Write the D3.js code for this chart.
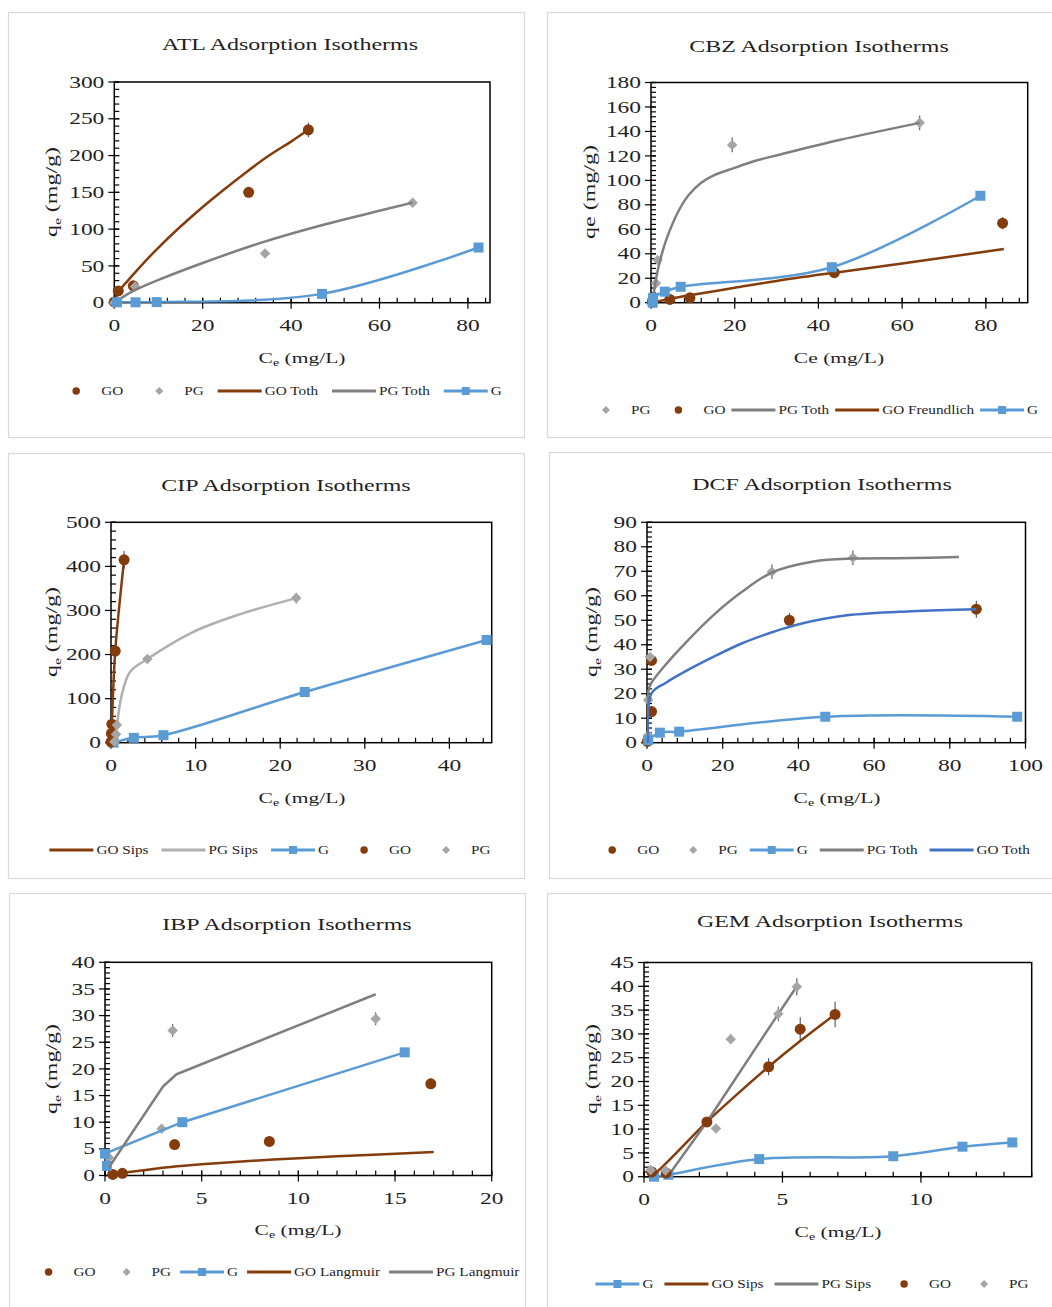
<!DOCTYPE html>
<html><head><meta charset="utf-8">
<script src="https://cdn.jsdelivr.net/npm/d3@7"></script>
<style>body{margin:0;background:#fff}svg{display:block}</style>
</head><body>
<script>
// ---------------- DATA ----------------
// ATL
const atlGO_x=[0,0.9,4.3,30.4,43.9], atlGO_y=[1,16,23,150,235], atlGO_err=[0,0,0,0,10];
const atlPG_x=[0,4.7,34.1,67.5], atlPG_y=[0,22,67,136], atlPG_err=[0,0,0,3];
const atlGOToth_x=[0,1,3.5,10,20,30,35,40,43.9], atlGOToth_y=[0,15,33,75,130,178,200,219,235];
const atlPGToth_x=[0,2,5,10,20,34,48,60,67.5], atlPGToth_y=[0,8,18,31,54,83,107,125,136];
const atlG_x=[0.6,4.8,9.6,47,82.4], atlG_y=[0.5,0.5,0.8,12,75];
// CBZ
const cbzPG_x=[0.3,1.2,1.6,19.4,64.2], cbzPG_y=[3,16,35,129,147], cbzPG_err=[0,0,0,6,6];
const cbzGO_x=[0.3,4.5,9.3,43.8,84], cbzGO_y=[0.5,2.7,4,24.5,65], cbzGO_err=[0,0,0,0,5];
const cbzPGToth_x=[0.3,1,1.7,3.7,6.9,9,12,15,19.8,25,30.7,45,64.2], cbzPGToth_y=[0,15,28,52,77,88,98,104,110,116,121,133,147];
const cbzGOFr_x=[0,5,10,20,30,43.8,60,84.3], cbzGOFr_y=[0,3.5,6.5,12.2,17.8,24.5,32,43.9];
const cbzG_x=[0.4,0.5,3.3,7.1,43.2,78.7], cbzG_y=[0,4,9,13,29,87.4];
// CIP
const cipGOSips_x=[0,0.05,0.1,0.5,1.55], cipGOSips_y=[0,21,42,208,415];
const cipPGSips_x=[0.4,0.7,1.27,2.26,4.3,9.8,15,21.9], cipPGSips_y=[0,40,108,161,190,252,290,328];
const cipG_x=[0.3,2.7,6.2,22.9,44.4], cipG_y=[0,11,17,115,233];
const cipGO_x=[0,0.05,0.1,0.5,1.55], cipGO_y=[2,21,42,208,415], cipGO_err=[0,0,0,0,20];
const cipPG_x=[0.4,0.6,0.7,4.3,21.9], cipPG_y=[2,19,40,190,328], cipPG_err=[0,0,0,5,12];
// DCF
const dcfGO_x=[0.1,1.2,1.2,37.6,87], dcfGO_y=[0.5,12.7,33.6,50,54.5], dcfGO_err=[0,0,0,3,3.5];
const dcfPG_x=[0.3,0.3,0.8,33,54.4], dcfPG_y=[3,17.4,35,69.8,75.5], dcfPG_err=[0,0,0,3,3];
const dcfG_x=[0.3,3.4,8.5,47.1,97.8], dcfG_y=[1,4.1,4.5,10.6,10.6];
const dcfPGToth_x=[0,0.5,1.2,5,10,17.5,25,33,44,54.4,70,82.4], dcfPGToth_y=[0,22,24.5,32,40.5,52,61.5,69.5,74,75.2,75.4,75.8];
const dcfGOToth_x=[0.3,1.2,5,10,17.5,25,33.4,39.6,52.8,70,87], dcfGOToth_y=[0,20.2,24.5,29,35,40.5,45.3,48.2,52,53.7,54.5];
// IBP
const ibpGO_x=[0.4,0.9,3.6,8.5,16.85], ibpGO_y=[0.2,0.4,5.8,6.4,17.2], ibpGO_err=[0,0,0,0,1];
const ibpPG_x=[0.2,2.93,3.5,14], ibpPG_y=[3.4,8.75,27.2,29.4], ibpPG_err=[0,0,1.2,1.2];
const ibpG_x=[0.1,0,4,15.5], ibpG_y=[1.8,4.1,10,23.1];
const ibpGOLang_x=[0.3,1,2,3.4,5,8.7,12,17], ibpGOLang_y=[0,0.5,1,1.6,2.1,3,3.6,4.4];
const ibpPGLang_x=[0.2,3,3.7,14], ibpPGLang_y=[1.5,16.7,19,34];
// GEM
const gemG_x=[0.36,0.88,4.16,9,11.5,13.3], gemG_y=[0,0.4,3.7,4.3,6.3,7.2];
const gemGOSips_x=[0.3,1,2.27,3.4,4.5,5.64,6.9], gemGOSips_y=[0,4,11.5,17.5,23.1,28.5,34.1];
const gemPGSips_x=[0.85,2.27,4.85,5.52], gemPGSips_y=[0,11.5,34.2,40];
const gemGO_x=[0.28,0.8,2.27,4.5,5.64,6.9], gemGO_y=[1,0.8,11.5,23.1,31,34.1], gemGO_err=[0,0,0,1.8,2.5,2.7];
const gemPG_x=[0.24,0.77,2.6,3.13,4.85,5.52], gemPG_y=[1.4,1.3,10.1,28.9,34.2,39.9], gemPG_err=[0,0,0,1,1.5,1.8];

// titles / labels
const panelTitles=["ATL Adsorption Isotherms","CBZ Adsorption Isotherms","CIP Adsorption Isotherms","DCF Adsorption Isotherms","IBP Adsorption Isotherms","GEM Adsorption Isotherms"];

// ---------------- STYLE ----------------
const BROWN="#843C0C", PGM="#A5A5A5", PGL="#7F7F7F", BLUE="#5B9BD5", DBLUE="#4472C4", LGRAY="#AFAFAF";
const FONT="'Liberation Serif','Times New Roman',serif";
const TXT="#1f1f1f";

const svg=d3.select("body").append("svg").attr("width",1052).attr("height",1307);

function zip(xs,ys,es){return xs.map((x,i)=>({x,y:ys[i],e:es?es[i]:0}));}

function stext(g,x,y,parts,size,sx,anchor,rot){
  const t=g.append("text")
    .attr("transform",`translate(${x},${y})${rot?" rotate(-90)":""} scale(${sx},1)`)
    .attr("font-family",FONT).attr("font-size",size).attr("fill",TXT)
    .attr("text-anchor",anchor||"middle");
  if(typeof parts==="string"){t.text(parts);return t;}
  parts.forEach(p=>{
    const ts=t.append("tspan").text(p.t);
    if(p.sub) ts.attr("font-size",size*0.65).attr("dy",size*0.22);
    else if(p.after) ts.attr("dy",-size*0.22);
  });
  return t;
}

function marker(g,type,x,y,s,color){
  if(type==="circle") g.append("circle").attr("cx",x).attr("cy",y).attr("r",s/2).attr("fill",color);
  else if(type==="square") g.append("rect").attr("x",x-s/2).attr("y",y-s/2).attr("width",s).attr("height",s).attr("fill",color);
  else if(type==="diamond") g.append("path").attr("d",`M${x},${y-s/2}L${x+s/2},${y}L${x},${y+s/2}L${x-s/2},${y}Z`).attr("fill",color);
}

const layouts=[
 {l:114.3,r:490,t:82,b:302.7,xd:[0,85],yd:[0,300],xM:20,xm:4,yM:50,ym:10,title:[290,50],xt:[302,363],yt:[57,192],leg:[278,391],lgap:14,xsub:true},
 {l:651,r:1027.7,t:82.5,b:302.7,xd:[0,90],yd:[0,180],xM:20,xm:4,yM:20,ym:4,title:[819,52],xt:[839,363],yt:[595,192],leg:[811,410],lgap:6,xsub:false},
 {l:111,r:491.7,t:522.3,b:742.7,xd:[0,45],yd:[0,500],xM:10,xm:2,yM:100,ym:20,title:[286,491],xt:[302,803],yt:[57,632],leg:[270,850],lgap:13,xsub:true},
 {l:647,r:1025.5,t:522.3,b:742.7,xd:[0,100],yd:[0,90],xM:20,xm:4,yM:10,ym:2,title:[822,490],xt:[837,803],yt:[597,632],leg:[810,850],lgap:12,xsub:true},
 {l:105,r:491.7,t:962.3,b:1175.5,xd:[0,20],yd:[0,40],xM:5,xm:1,yM:5,ym:1,title:[287,930],xt:[298,1235],yt:[57,1069],leg:[273,1272],lgap:9,xsub:true},
 {l:644,r:1031.7,t:962.5,b:1176.7,xd:[0,14],yd:[0,45],xM:5,xm:1,yM:5,ym:1,title:[830,927],xt:[838,1237],yt:[597,1069],leg:[812,1284],lgap:11,xsub:true}
];
const frames=[[8,12,516,425],[547,12,520,425],[8,453,516,425],[549,452,520,426],[9,893,516,430],[547,893,520,430]];

const panels=[
 {series:[
  {name:"GO",kind:"pts",m:"circle",c:BROWN,d:zip(atlGO_x,atlGO_y,atlGO_err)},
  {name:"PG",kind:"pts",m:"diamond",c:PGM,d:zip(atlPG_x,atlPG_y,atlPG_err)},
  {name:"GO Toth",kind:"line",c:BROWN,smooth:true,d:zip(atlGOToth_x,atlGOToth_y)},
  {name:"PG Toth",kind:"line",c:PGL,smooth:true,d:zip(atlPGToth_x,atlPGToth_y)},
  {name:"G",kind:"lp",m:"square",c:BLUE,smooth:true,d:zip(atlG_x,atlG_y)}]},
 {series:[
  {name:"PG",kind:"pts",m:"diamond",c:PGM,d:zip(cbzPG_x,cbzPG_y,cbzPG_err)},
  {name:"GO",kind:"pts",m:"circle",c:BROWN,d:zip(cbzGO_x,cbzGO_y,cbzGO_err)},
  {name:"PG Toth",kind:"line",c:PGL,smooth:true,d:zip(cbzPGToth_x,cbzPGToth_y)},
  {name:"GO Freundlich",kind:"line",c:BROWN,smooth:true,d:zip(cbzGOFr_x,cbzGOFr_y)},
  {name:"G",kind:"lp",m:"square",c:BLUE,smooth:true,d:zip(cbzG_x,cbzG_y)}]},
 {series:[
  {name:"GO Sips",kind:"line",c:BROWN,smooth:true,d:zip(cipGOSips_x,cipGOSips_y)},
  {name:"PG Sips",kind:"line",c:LGRAY,smooth:true,d:zip(cipPGSips_x,cipPGSips_y)},
  {name:"G",kind:"lp",m:"square",c:BLUE,smooth:true,d:zip(cipG_x,cipG_y)},
  {name:"GO",kind:"pts",m:"circle",c:BROWN,d:zip(cipGO_x,cipGO_y,cipGO_err)},
  {name:"PG",kind:"pts",m:"diamond",c:PGM,d:zip(cipPG_x,cipPG_y,cipPG_err)}]},
 {series:[
  {name:"GO",kind:"pts",m:"circle",c:BROWN,d:zip(dcfGO_x,dcfGO_y,dcfGO_err)},
  {name:"PG",kind:"pts",m:"diamond",c:PGM,d:zip(dcfPG_x,dcfPG_y,dcfPG_err)},
  {name:"G",kind:"lp",m:"square",c:BLUE,smooth:true,d:zip(dcfG_x,dcfG_y)},
  {name:"PG Toth",kind:"line",c:PGL,smooth:true,d:zip(dcfPGToth_x,dcfPGToth_y)},
  {name:"GO Toth",kind:"line",c:DBLUE,smooth:true,d:zip(dcfGOToth_x,dcfGOToth_y)}]},
 {series:[
  {name:"GO",kind:"pts",m:"circle",c:BROWN,d:zip(ibpGO_x,ibpGO_y,ibpGO_err)},
  {name:"PG",kind:"pts",m:"diamond",c:PGM,d:zip(ibpPG_x,ibpPG_y,ibpPG_err)},
  {name:"G",kind:"lp",m:"square",c:BLUE,smooth:false,d:zip(ibpG_x,ibpG_y)},
  {name:"GO Langmuir",kind:"line",c:BROWN,smooth:true,d:zip(ibpGOLang_x,ibpGOLang_y)},
  {name:"PG Langmuir",kind:"line",c:PGL,smooth:false,d:zip(ibpPGLang_x,ibpPGLang_y)}]},
 {series:[
  {name:"G",kind:"lp",m:"square",c:BLUE,smooth:true,d:zip(gemG_x,gemG_y)},
  {name:"GO Sips",kind:"line",c:BROWN,smooth:true,d:zip(gemGOSips_x,gemGOSips_y)},
  {name:"PG Sips",kind:"line",c:PGL,smooth:false,d:zip(gemPGSips_x,gemPGSips_y)},
  {name:"GO",kind:"pts",m:"circle",c:BROWN,d:zip(gemGO_x,gemGO_y,gemGO_err)},
  {name:"PG",kind:"pts",m:"diamond",c:PGM,d:zip(gemPG_x,gemPG_y,gemPG_err)}]}
];

const TICK_FS=16.5, TICK_SX=1.42, TITLE_FS=17, TITLE_SX=1.41, AX_FS=15.5, AX_SX=1.39, YT_FS=16, YT_SX=1.5, LEG_FS=12.5, LEG_SX=1.22;

function drawLegend(g,series,cx,y,gap){
  const lg=g.append("g");
  let x=0;
  series.forEach(s=>{
    const ig=lg.append("g").attr("transform",`translate(${x},0)`);
    if(s.kind==="pts") marker(ig,s.m,22,0,s.m==="diamond"?8:7.5,s.c);
    else {
      ig.append("line").attr("x1",0).attr("x2",44).attr("y1",0).attr("y2",0).attr("stroke",s.c).attr("stroke-width",3);
      if(s.kind==="lp") marker(ig,"square",22,0,8,s.c);
    }
    const t=stext(ig,47,LEG_FS*0.33,s.name,LEG_FS,LEG_SX,"start");
    const w=t.node().getComputedTextLength()*LEG_SX;
    x+=47+w+gap;
  });
  const total=x-gap;
  lg.attr("transform",`translate(${cx-total/2},${y})`);
}

panels.forEach((p,i)=>{
  const L=layouts[i];
  const g=svg.append("g");
  const f=frames[i];
  g.append("rect").attr("x",f[0]+0.5).attr("y",f[1]+0.5).attr("width",f[2]).attr("height",f[3]).attr("fill","#fff").attr("stroke","#D9D9D9").attr("stroke-width",1.2);
  const x=d3.scaleLinear().domain(L.xd).range([L.l,L.r]);
  const y=d3.scaleLinear().domain(L.yd).range([L.b,L.t]);
  const xMinor=d3.range(L.xd[0],L.xd[1]+1e-9,L.xm), yMinor=d3.range(L.yd[0],L.yd[1]+1e-9,L.ym);
  const xMajor=d3.range(L.xd[0],L.xd[1]+1e-9,L.xM), yMajor=d3.range(L.yd[0],L.yd[1]+1e-9,L.yM);
  const tk=g.append("g").attr("stroke","#000").attr("stroke-width",1.2);
  xMinor.forEach(v=>tk.append("line").attr("x1",x(v)).attr("x2",x(v)).attr("y1",L.b).attr("y2",L.b-5));
  yMinor.forEach(v=>tk.append("line").attr("y1",y(v)).attr("y2",y(v)).attr("x1",L.l).attr("x2",L.l+5));
  xMajor.forEach(v=>tk.append("line").attr("x1",x(v)).attr("x2",x(v)).attr("y1",L.b-5).attr("y2",L.b+6));
  yMajor.forEach(v=>tk.append("line").attr("y1",y(v)).attr("y2",y(v)).attr("x1",L.l-6).attr("x2",L.l+5));
  const ax=g.append("g").attr("transform",`translate(0,${L.b})`).call(d3.axisBottom(x).tickValues(xMajor).tickSize(0).tickPadding(0).tickFormat(d3.format("d")));
  ax.select(".domain").remove();
  ax.selectAll("text").remove();
  xMajor.forEach(v=>stext(g,x(v),L.b+28,String(v),TICK_FS,TICK_SX,"middle"));
  const ay=g.append("g").attr("transform",`translate(${L.l},0)`).call(d3.axisLeft(y).tickValues(yMajor).tickSize(0));
  ay.select(".domain").remove(); ay.selectAll("text").remove();
  yMajor.forEach(v=>stext(g,L.l-10,y(v)+5.6,String(v),TICK_FS,TICK_SX,"end"));
  g.append("rect").attr("x",L.l).attr("y",L.t).attr("width",L.r-L.l).attr("height",L.b-L.t).attr("fill","none").attr("stroke","#000").attr("stroke-width",1.5);
  const cid="clip"+i;
  svg.append("defs").append("clipPath").attr("id",cid).append("rect").attr("x",L.l).attr("y",L.t).attr("width",L.r-L.l).attr("height",L.b-L.t);
  const plot=g.append("g");
  p.series.forEach(s=>{
    if(s.kind!=="pts"){
      const ln=d3.line().x(d=>x(d.x)).y(d=>y(d.y)).curve(s.smooth?d3.curveCatmullRom.alpha(0.5):d3.curveLinear);
      plot.append("path").attr("d",ln(s.d)).attr("fill","none").attr("stroke",s.c).attr("stroke-width",2.5).attr("stroke-linejoin","round").attr("clip-path",`url(#${cid})`);
    }
    if(s.kind==="pts"||s.kind==="lp"){
      s.d.forEach(d=>{
        if(d.e>0) plot.append("line").attr("x1",x(d.x)).attr("x2",x(d.x)).attr("y1",y(d.y-d.e)).attr("y2",y(d.y+d.e)).attr("stroke","#404040").attr("stroke-width",1);
        marker(plot,s.m,x(d.x),y(d.y),s.m==="diamond"?10.5:(s.m==="square"?10:11),s.c);
      });
    }
  });
  stext(g,L.title[0],L.title[1],panelTitles[i],TITLE_FS,TITLE_SX,"middle");
  const xparts=L.xsub?[{t:"C"},{t:"e",sub:true},{t:" (mg/L)",after:true}]:"Ce (mg/L)";
  stext(g,L.xt[0],L.xt[1],xparts,AX_FS,AX_SX,"middle");
  const yparts=L.xsub?[{t:"q"},{t:"e",sub:true},{t:" (mg/g)",after:true}]:"qe (mg/g)";
  stext(g,L.yt[0],L.yt[1],yparts,YT_FS,YT_SX,"middle",true);
  drawLegend(g,p.series,L.leg[0],L.leg[1],L.lgap);
});
</script>
</body></html>
